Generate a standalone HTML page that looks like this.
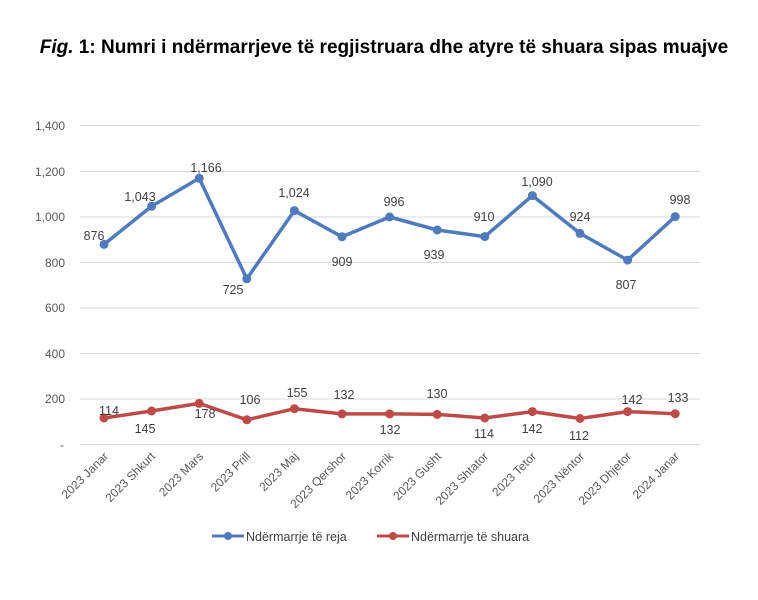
<!DOCTYPE html>
<html><head><meta charset="utf-8"><style>
body{margin:0;background:#fff;width:758px;height:600px;overflow:hidden}
svg{display:block;font-family:"Liberation Sans",sans-serif}
</style></head><body>
<svg width="758" height="600" viewBox="0 0 758 600">
<text x="384" y="53" text-anchor="middle" font-size="19" font-weight="bold" fill="#000"><tspan font-style="italic">Fig.</tspan> 1: Numri i ndërmarrjeve të regjistruara dhe atyre të shuara sipas muajve</text>
<g stroke="#d9d9d9" stroke-width="1">
<line x1="80" x2="700" y1="125.5" y2="125.5"/><line x1="80" x2="700" y1="171.5" y2="171.5"/>
<line x1="80" x2="700" y1="217" y2="217"/><line x1="80" x2="700" y1="262.5" y2="262.5"/>
<line x1="80" x2="700" y1="308" y2="308"/><line x1="80" x2="700" y1="353.5" y2="353.5"/>
<line x1="80" x2="700" y1="399" y2="399"/><line x1="80" x2="700" y1="444.5" y2="444.5"/>
</g>
<g font-size="12" fill="#595959" text-anchor="end">
<text x="65" y="130">1,400</text><text x="65" y="176">1,200</text><text x="65" y="221">1,000</text>
<text x="65" y="267">800</text><text x="65" y="312">600</text><text x="65" y="358">400</text>
<text x="65" y="403">200</text><text x="64" y="449">-</text>
</g>
<polyline fill="none" stroke="#4f7bbd" stroke-width="3.5" stroke-linejoin="round" points="104,244.4 151.6,206.3 199.2,178.3 246.8,278.8 294.4,210.6 342,236.8 389.6,217 437.2,230 484.8,236.6 532.4,195.6 580,233.4 627.6,260.1 675.2,216.6"/>
<g fill="#4f7bbd"><circle cx="104" cy="244.4" r="4.5"/><circle cx="151.6" cy="206.3" r="4.5"/><circle cx="199.2" cy="178.3" r="4.5"/><circle cx="246.8" cy="278.8" r="4.5"/><circle cx="294.4" cy="210.6" r="4.5"/><circle cx="342" cy="236.8" r="4.5"/><circle cx="389.6" cy="217" r="4.5"/><circle cx="437.2" cy="230" r="4.5"/><circle cx="484.8" cy="236.6" r="4.5"/><circle cx="532.4" cy="195.6" r="4.5"/><circle cx="580" cy="233.4" r="4.5"/><circle cx="627.6" cy="260.1" r="4.5"/><circle cx="675.2" cy="216.6" r="4.5"/></g>
<polyline fill="none" stroke="#be4b48" stroke-width="3.5" stroke-linejoin="round" points="104,418 151.6,411 199.2,403.4 246.8,419.8 294.4,408.7 342,413.9 389.6,413.9 437.2,414.4 484.8,418 532.4,411.6 580,418.5 627.6,411.6 675.2,413.7"/>
<g fill="#be4b48"><circle cx="104" cy="418" r="4.5"/><circle cx="151.6" cy="411" r="4.5"/><circle cx="199.2" cy="403.4" r="4.5"/><circle cx="246.8" cy="419.8" r="4.5"/><circle cx="294.4" cy="408.7" r="4.5"/><circle cx="342" cy="413.9" r="4.5"/><circle cx="389.6" cy="413.9" r="4.5"/><circle cx="437.2" cy="414.4" r="4.5"/><circle cx="484.8" cy="418" r="4.5"/><circle cx="532.4" cy="411.6" r="4.5"/><circle cx="580" cy="418.5" r="4.5"/><circle cx="627.6" cy="411.6" r="4.5"/><circle cx="675.2" cy="413.7" r="4.5"/></g>
<g font-size="12.5" fill="#404040" text-anchor="middle">
<text x="94" y="240">876</text><text x="140" y="201">1,043</text><text x="206" y="172">1,166</text>
<text x="233" y="294">725</text><text x="294" y="197">1,024</text><text x="342" y="266">909</text>
<text x="394" y="206">996</text><text x="434" y="259">939</text><text x="484" y="221">910</text>
<text x="537" y="186">1,090</text><text x="580" y="221">924</text><text x="626" y="289">807</text>
<text x="680" y="204">998</text>
<text x="109" y="415">114</text><text x="145" y="433">145</text><text x="205" y="418">178</text>
<text x="250" y="404">106</text><text x="297" y="397">155</text><text x="344" y="399">132</text>
<text x="390" y="434">132</text><text x="437" y="398">130</text><text x="484" y="438">114</text>
<text x="532" y="433">142</text><text x="579" y="440">112</text><text x="632" y="404">142</text>
<text x="678" y="402">133</text>
</g>
<g font-size="12" fill="#595959" text-anchor="end">
<text transform="translate(109,457) rotate(-45)">2023 Janar</text>
<text transform="translate(156,457) rotate(-45)">2023 Shkurt</text>
<text transform="translate(204,457) rotate(-45)">2023 Mars</text>
<text transform="translate(251,457) rotate(-45)">2023 Prill</text>
<text transform="translate(299,457) rotate(-45)">2023 Maj</text>
<text transform="translate(347,457) rotate(-45)">2023 Qershor</text>
<text transform="translate(394,457) rotate(-45)">2023 Korrik</text>
<text transform="translate(442,457) rotate(-45)">2023 Gusht</text>
<text transform="translate(489,457) rotate(-45)">2023 Shtator</text>
<text transform="translate(537,457) rotate(-45)">2023 Tetor</text>
<text transform="translate(585,457) rotate(-45)">2023 Nëntor</text>
<text transform="translate(632,457) rotate(-45)">2023 Dhjetor</text>
<text transform="translate(680,457) rotate(-45)">2024 Janar</text>
</g>
<line x1="212" x2="244" y1="536" y2="536" stroke="#4f7bbd" stroke-width="3"/><circle cx="228" cy="536" r="4" fill="#4f7bbd"/>
<text x="246" y="541" font-size="12.5" fill="#404040">Ndërmarrje të reja</text>
<line x1="377" x2="409" y1="536" y2="536" stroke="#be4b48" stroke-width="3"/><circle cx="393" cy="536" r="4" fill="#be4b48"/>
<text x="411" y="541" font-size="12.5" fill="#404040">Ndërmarrje të shuara</text>
</svg>
</body></html>
